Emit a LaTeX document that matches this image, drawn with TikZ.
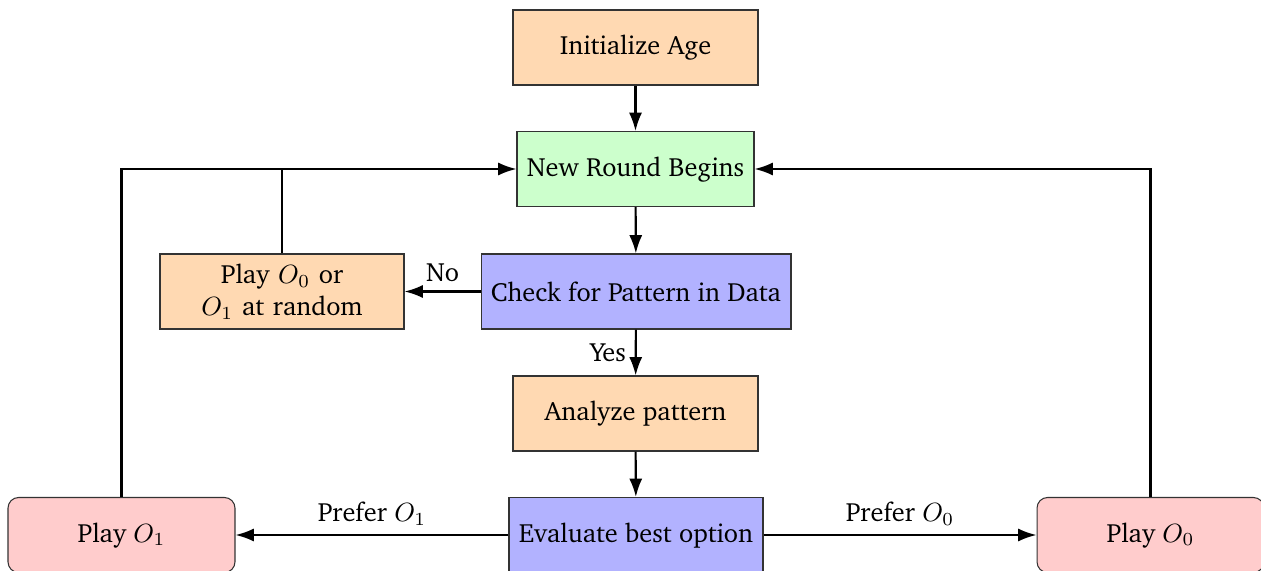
\documentclass[tikz,border=0pt]{standalone}
\usepackage[T1]{fontenc}
\usepackage{charter}
\usetikzlibrary{arrows.meta}
\begin{document}
\begin{tikzpicture}[x=0.013333cm, y=-0.013333cm,
  box/.style={draw=black!80, minimum height=1cm, inner sep=0.3333em, align=center},
  orangebox/.style={box, fill=orange!30},
  greenbox/.style={box, fill=green!20},
  bluebox/.style={box, fill=blue!30},
  redbox/.style={box, fill=red!20, rounded corners=4pt},
  conn/.style={thick, -{Latex[length=7pt,width=5pt]}},
  line/.style={thick}]
\useasboundingbox (0,0) rectangle (1261,571);
\node[orangebox, minimum width=245/75*1cm] (init) at (635.5,47.5) {Initialize Age};
\node[greenbox, minimum width=237/75*1cm] (round) at (635.5,169) {New Round Begins};
\node[orangebox, minimum width=244/75*1cm, text width=3cm] (random) at (282,291.5) {Play $O_0$ or\\ $O_1$ at random};
\node[bluebox, minimum width=310/75*1cm] (check) at (636,291.5) {Check for Pattern in Data};
\node[orangebox, minimum width=245/75*1cm] (analyze) at (635.5,413.5) {Analyze pattern};
\node[bluebox, minimum width=254/75*1cm] (eval) at (636,535) {Evaluate best option};
\node[redbox, minimum width=227/75*1cm] (p1) at (121.5,535) {Play $O_1$};
\node[redbox, minimum width=227/75*1cm] (p0) at (1150.5,535) {Play $O_0$};
\coordinate (jl) at (121.5,169);
\coordinate (jm) at (282,169);
\coordinate (jr) at (1150.5,169);
\draw[conn] (init) -- (round);
\draw[conn] (round) -- (check);
\draw[conn] (check) -- node[above] {No} (random);
\draw[conn] (check) -- node[left] {Yes} (analyze);
\draw[conn] (analyze) -- (eval);
\draw[conn] (eval) -- node[above] {Prefer $O_1$} (p1);
\draw[conn] (eval) -- node[above] {Prefer $O_0$} (p0);
\draw[conn] (p1) -- (jl) -- (round);
\draw[line] (random) -- (jm);
\draw[conn] (p0) -- (jr) -- (round);
\end{tikzpicture}
\end{document}
